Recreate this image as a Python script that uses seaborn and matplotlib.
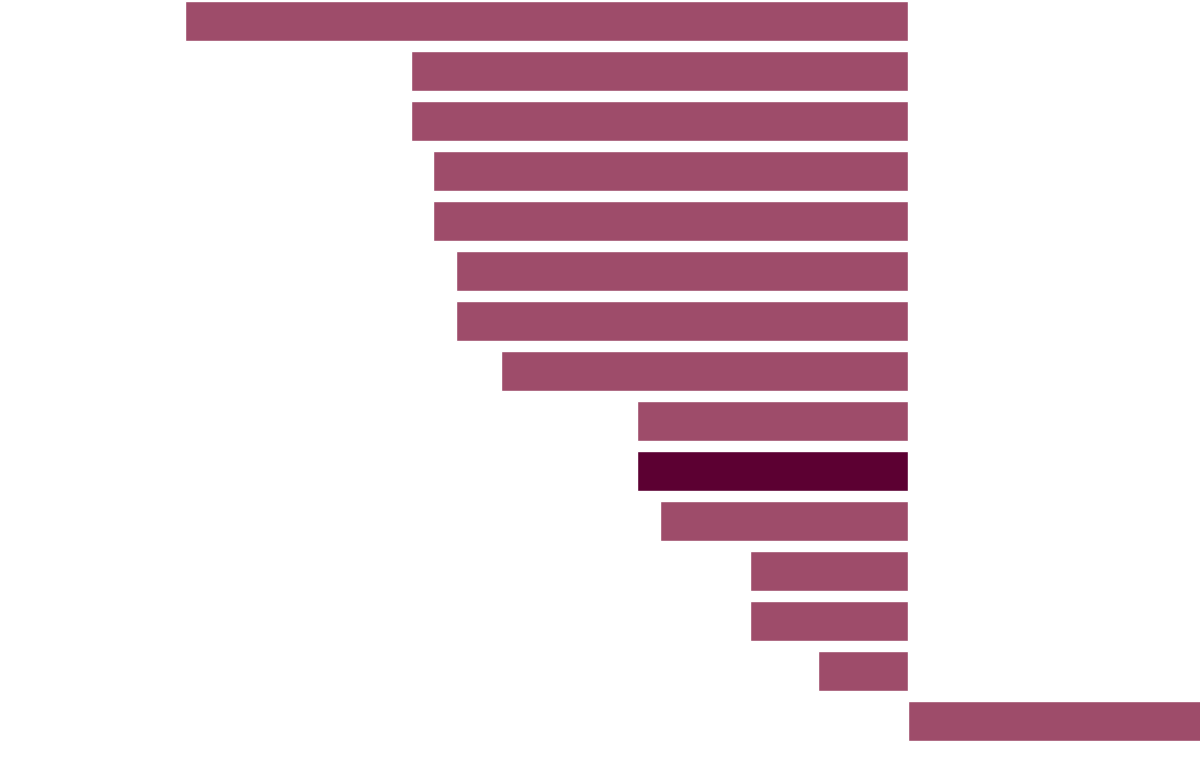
import matplotlib
matplotlib.use("Agg")
import matplotlib.pyplot as plt
import seaborn as sns
import pandas as pd

categories = [f"C{i+1}" for i in range(15)]
values = [-32, -22, -22, -21, -21, -20, -20, -18, -12, -12, -11, -7, -7, -4, 13]
highlight = "C10"

base_color = "#9E4C6A"
dark_color = "#5C0032"

df = pd.DataFrame({"category": categories, "value": values})
palette = {c: (dark_color if c == highlight else base_color) for c in categories}

sns.set_style("white")
fig = plt.figure(figsize=(12, 7.62), dpi=100)
ax = fig.add_axes([0, 0, 1, 1])
sns.barplot(data=df, x="value", y="category", hue="category", palette=palette,
            orient="h", width=0.8, legend=False, ax=ax, saturation=1)
ax.set_xlim(-40.16, 12.89)
ax.set_ylim(14.82, -0.42)
ax.axis("off")
fig.savefig("out.png", dpi=100)
